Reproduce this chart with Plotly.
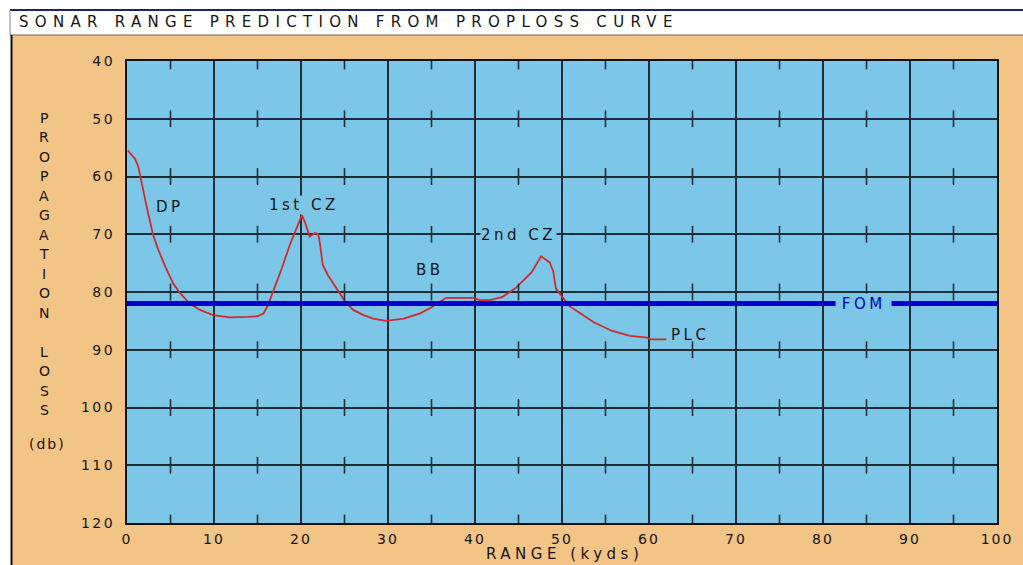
import plotly.graph_objects as go

# ---------------- data ----------------
range_kyds = [0.1, 0.9, 1.3, 1.6, 2.1, 2.6, 3.0, 3.6, 4.4, 5.3, 6.1, 7.2, 8.4, 9.9, 11.8,
              13.9, 15.0, 15.7, 16.2, 16.8, 17.8, 18.7, 19.5, 20.1, 20.5, 21.0, 21.6, 22.0,
              22.2, 22.5, 23.1, 24.1, 25.1, 26.0, 27.2, 28.3, 29.8, 31.8, 33.7, 34.8, 36.0,
              36.7, 39.8, 40.6, 41.7, 43.1, 44.6, 46.5, 47.6, 48.6, 49.0, 49.3, 50.0, 50.9,
              52.1, 53.6, 55.7, 57.8, 59.8, 60.1, 62.0]
prop_loss = [55.5, 56.9, 58.3, 60.6, 64.1, 67.5, 70.1, 72.7, 75.6, 78.5, 80.2, 82.0, 83.1,
             84.0, 84.4, 84.3, 84.2, 83.7, 82.3, 79.9, 75.9, 71.9, 69.0, 66.7, 68.1, 70.4,
             69.8, 70.0, 71.9, 75.3, 77.1, 79.4, 81.7, 83.1, 84.0, 84.6, 85.0, 84.6, 83.7,
             82.8, 81.7, 81.0, 81.0, 81.4, 81.4, 80.9, 79.4, 76.6, 73.8, 74.9, 76.5, 79.4,
             80.8, 82.5, 83.7, 85.2, 86.7, 87.6, 87.9, 88.2, 88.2]
fom_value = 82
x_ticks = [0, 10, 20, 30, 40, 50, 60, 70, 80, 90, 100]
y_ticks = [40, 50, 60, 70, 80, 90, 100, 110, 120]
x_minor = [5, 15, 25, 35, 45, 55, 65, 75, 85, 95]
labels = [("DP", 4.9, 65.3), ("1st CZ", 20.3, 64.9), ("BB", 34.8, 76.2),
          ("2nd CZ", 45.0, 70.1)]
plc_label = ("PLC", 62.3, 87.4)
fom_label = ("FOM", 84.7, 82)
title_text = "SONAR RANGE PREDICTION FROM PROPLOSS CURVE"
y_title_letters = list("PROPAGATION") + [""] + list("LOSS")
x_title = "RANGE (kyds)"

# ---------------- style ----------------
ORANGE = "#f2c486"
BLUE = "#7cc7e8"
GRID = "#1d2c35"
FONT = "DejaVu Sans"
TXT = "#151515"

L, R, T, B = 127, 997, 61, 523
W, H = 1023, 565


def px2x(px):
    return (px - L) / (R - L)


def py2y(py):
    return (B - py) / (B - T)


def sp(text, ls):
    return f'<span style="letter-spacing:{ls}px">{text}</span>'


fig = go.Figure()

# red propagation loss curve
fig.add_trace(go.Scatter(x=range_kyds, y=prop_loss, mode="lines",
                         line=dict(color="#d42a2a", width=1.8), hoverinfo="skip"))

# minor tick marks on each horizontal grid line
tx, ty = [], []
for yv in y_ticks:
    for xv in x_minor:
        tx.append(xv)
        ty.append(yv)
fig.add_trace(go.Scatter(x=tx, y=ty, mode="markers",
                         marker=dict(symbol="line-ns", size=12,
                                     line=dict(color=GRID, width=1.6)),
                         hoverinfo="skip"))

# FOM line
fig.add_trace(go.Scatter(x=[x_ticks[0], x_ticks[-1]], y=[fom_value, fom_value],
                         mode="lines", line=dict(color="#0000c8", width=5),
                         hoverinfo="skip"))

annotations = []
for txt, xv, yv in labels:
    annotations.append(dict(x=xv, y=yv, xref="x", yref="y", text=sp(txt, 3.5),
                            showarrow=False, bgcolor=BLUE, borderpad=0,
                            font=dict(family=FONT, size=15, color=TXT)))
annotations.append(dict(x=plc_label[1], y=plc_label[2], xref="x", yref="y",
                        text=sp(plc_label[0], 3.5), showarrow=False, xanchor="left",
                        font=dict(family=FONT, size=15, color=TXT)))
annotations.append(dict(x=fom_label[1], y=fom_label[2], xref="x", yref="y",
                        text=" " + sp(fom_label[0], 3.5) + " ", showarrow=False,
                        bgcolor=BLUE, borderpad=1,
                        font=dict(family=FONT, size=15, color="#0000c0")))

# title
annotations.append(dict(x=px2x(17), y=py2y(22), xref="paper", yref="paper",
                        text=sp(title_text, 6.3), showarrow=False, xanchor="left",
                        yanchor="middle", font=dict(family=FONT, size=15, color=TXT)))

# vertical y title letters
for i, ch in enumerate(y_title_letters):
    if not ch:
        continue
    annotations.append(dict(x=px2x(44), y=py2y(118 + i * 19.47), xref="paper",
                            yref="paper", text=ch, showarrow=False,
                            xanchor="center", yanchor="middle",
                            font=dict(family=FONT, size=14, color=TXT)))
annotations.append(dict(x=px2x(47), y=py2y(444), xref="paper", yref="paper",
                        text=sp("(db)", 2), showarrow=False, xanchor="center",
                        yanchor="middle", font=dict(family=FONT, size=14, color=TXT)))
# x title
annotations.append(dict(x=px2x(564), y=py2y(554), xref="paper", yref="paper",
                        text=sp(x_title, 4.5), showarrow=False, xanchor="center",
                        yanchor="middle", font=dict(family=FONT, size=15, color=TXT)))

shapes = [
    dict(type="rect", xref="paper", yref="paper", x0=px2x(0), x1=px2x(W),
         y0=py2y(35), y1=py2y(0), fillcolor="white", line=dict(width=0), layer="below"),
    dict(type="rect", xref="paper", yref="paper", x0=px2x(0), x1=px2x(11),
         y0=py2y(H), y1=py2y(35), fillcolor="white", line=dict(width=0), layer="below"),
    dict(type="line", xref="paper", yref="paper", x0=px2x(10), x1=px2x(W),
         y0=py2y(10), y1=py2y(10), line=dict(color="#1a2470", width=2)),
    dict(type="line", xref="paper", yref="paper", x0=px2x(10), x1=px2x(10),
         y0=py2y(10), y1=py2y(35), line=dict(color="#888", width=1)),
    dict(type="line", xref="paper", yref="paper", x0=px2x(10), x1=px2x(W),
         y0=py2y(35), y1=py2y(35), line=dict(color="#666", width=1)),
    dict(type="line", xref="paper", yref="paper", x0=px2x(11.5), x1=px2x(11.5),
         y0=py2y(35), y1=py2y(H), line=dict(color="#111", width=2)),
]

fig.update_layout(
    width=W, height=H,
    margin=dict(l=L, r=W - R, t=T, b=H - B, autoexpand=False),
    paper_bgcolor=ORANGE, plot_bgcolor=BLUE,
    showlegend=False,
    annotations=annotations, shapes=shapes,
    xaxis=dict(range=[0, 100], tickvals=x_ticks,
               ticktext=[sp(str(v), 2) for v in x_ticks],
               showgrid=True, gridcolor=GRID, gridwidth=1.6, zeroline=False,
               showline=True, mirror=True, linecolor="#111", linewidth=2,
               ticks="outside", ticklen=2, tickcolor="rgba(0,0,0,0)",
               tickfont=dict(family=FONT, size=14, color=TXT)),
    yaxis=dict(range=[120, 40], tickvals=y_ticks,
               ticktext=[sp(str(v), 2.5) for v in y_ticks],
               showgrid=True, gridcolor=GRID, gridwidth=1.6, zeroline=False,
               showline=True, mirror=True, linecolor="#111", linewidth=2,
               ticks="outside", ticklen=7, tickcolor="rgba(0,0,0,0)",
               tickfont=dict(family=FONT, size=14, color=TXT)),
)

fig.write_html("out.html")
